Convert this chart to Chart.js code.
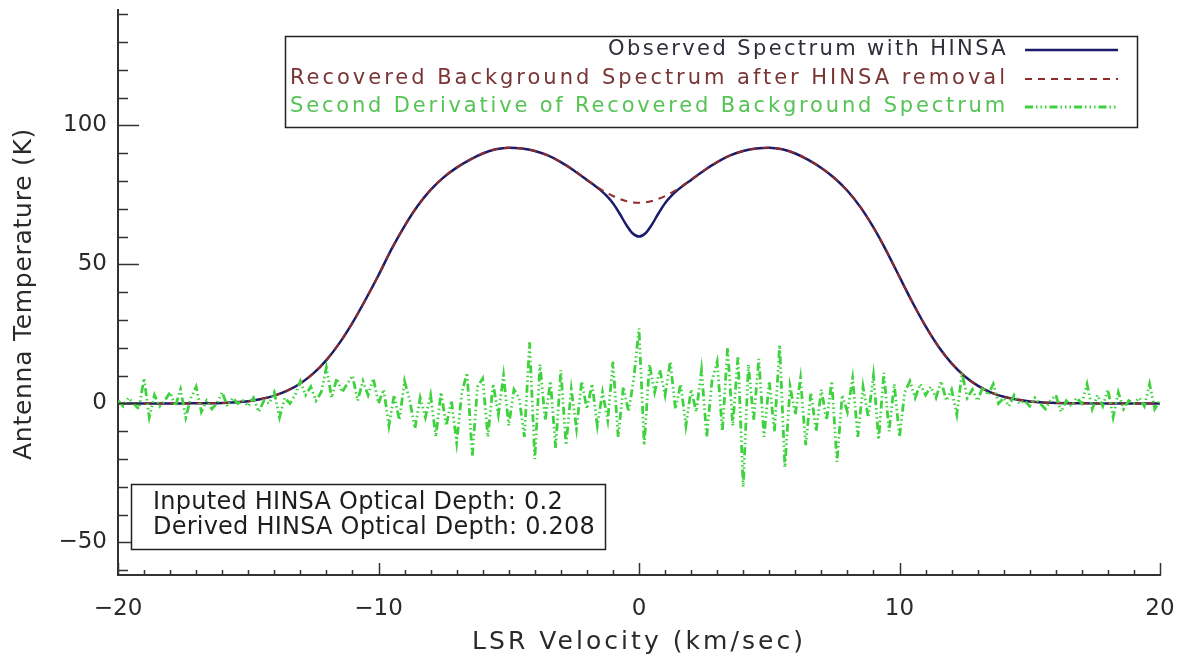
<!DOCTYPE html>
<html>
<head>
<meta charset="utf-8">
<title>HINSA spectrum</title>
<script src="https://cdn.jsdelivr.net/npm/chart.js@4.4.1/dist/chart.umd.min.js"></script>
<style>
  html, body { margin: 0; padding: 0; background: #ffffff; }
  #wrap { width: 1185px; height: 661px; }
</style>
</head>
<body>
<div id="wrap"><canvas id="spec" width="1185" height="661"></canvas></div>
<script>
// ---- data ----
const velocity = [
  -20, -19.5, -19, -18.5, -18, -17.5, -17, -16.5, -16, -15.5,
  -15, -14.5, -14, -13.5, -13, -12.5, -12, -11.5, -11, -10.5,
  -10, -9.5, -9, -8.5, -8, -7.5, -7, -6.5, -6, -5.5,
  -5, -4.5, -4, -3.5, -3, -2.5, -2,
  -1.75, -1.5, -1.25, -1, -0.75, -0.5, -0.25, 0, 0.25, 0.5, 0.75, 1, 1.25, 1.5, 1.75,
  2, 2.5, 3, 3.5, 4, 4.5, 5, 5.5, 6, 6.5,
  7, 7.5, 8, 8.5, 9, 9.5, 10, 10.5, 11, 11.5,
  12, 12.5, 13, 13.5, 14, 14.5, 15, 15.5, 16, 16.5,
  17, 17.5, 18, 18.5, 19, 19.5, 20
];
const observed = [
  0, 0, 0, 0, 0, 0, 0.05, 0.1, 0.2, 0.4,
  0.8, 1.6, 2.8, 4.6, 7.2, 10.8, 15.6, 21.7, 29, 37.3,
  46.1, 55.5, 63.8, 71, 76.8, 81.3, 84.8, 87.6, 89.9, 91.4,
  92, 91.7, 90.8, 89.2, 86.8, 83.8, 80.4,
  78.7, 76.9, 74.7, 72, 68.4, 64.4, 61.2, 60, 61.2, 64.4, 68.4, 72, 74.7, 76.9, 78.7,
  80.4, 83.8, 86.8, 89.2, 90.8, 91.7, 92, 91.4, 89.9, 87.6,
  84.7, 81.1, 76.5, 70.6, 63.3, 54.8, 45.5, 36.3, 27.8, 20.4,
  14.4, 9.8, 6.4, 4, 2.4, 1.4, 0.7, 0.35, 0.2, 0.1,
  0.05, 0, 0, 0, 0, 0, 0
];
const recovered = [
  0, 0, 0, 0, 0, 0, 0.05, 0.1, 0.2, 0.4,
  0.8, 1.6, 2.8, 4.6, 7.2, 10.8, 15.6, 21.7, 29, 37.3,
  46.1, 55.5, 63.8, 71, 76.8, 81.3, 84.8, 87.6, 89.9, 91.4,
  92, 91.7, 90.8, 89.2, 86.8, 83.8, 80.4,
  78.8, 77.2, 75.8, 74.6, 73.6, 72.8, 72.3, 72.2, 72.3, 72.8, 73.6, 74.6, 75.8, 77.2, 78.8,
  80.4, 83.8, 86.8, 89.2, 90.8, 91.7, 92, 91.4, 89.9, 87.6,
  84.7, 81.1, 76.5, 70.6, 63.3, 54.8, 45.5, 36.3, 27.8, 20.4,
  14.4, 9.8, 6.4, 4, 2.4, 1.4, 0.7, 0.35, 0.2, 0.1,
  0.05, 0, 0, 0, 0, 0, 0
];
const derivVelocity = [
  -20, -19.8, -19.6, -19.4, -19.2, -19, -18.8, -18.6, -18.4, -18.2,
  -18, -17.8, -17.6, -17.4, -17.2, -17, -16.8, -16.6, -16.4, -16.2,
  -16, -15.8, -15.6, -15.4, -15.2, -15, -14.8, -14.6, -14.4, -14.2,
  -14, -13.8, -13.6, -13.4, -13.2, -13, -12.8, -12.6, -12.4, -12.2,
  -12, -11.8, -11.6, -11.4, -11.2, -11, -10.8, -10.6, -10.4, -10.2,
  -10, -9.8, -9.6, -9.4, -9.2, -9, -8.8, -8.6, -8.4, -8.2,
  -8, -7.8, -7.6, -7.4, -7.2, -7, -6.8, -6.6, -6.4, -6.2,
  -6, -5.8, -5.6, -5.4, -5.2, -5, -4.8, -4.6, -4.4, -4.2,
  -4, -3.8, -3.6, -3.4, -3.2, -3, -2.8, -2.6, -2.4, -2.2,
  -2, -1.8, -1.6, -1.4, -1.2, -1, -0.8, -0.6, -0.4, -0.2,
  0, 0.2, 0.4, 0.6, 0.8, 1, 1.2, 1.4, 1.6, 1.8,
  2, 2.2, 2.4, 2.6, 2.8, 3, 3.2, 3.4, 3.6, 3.8,
  4, 4.2, 4.4, 4.6, 4.8, 5, 5.2, 5.4, 5.6, 5.8,
  6, 6.2, 6.4, 6.6, 6.8, 7, 7.2, 7.4, 7.6, 7.8,
  8, 8.2, 8.4, 8.6, 8.8, 9, 9.2, 9.4, 9.6, 9.8,
  10, 10.2, 10.4, 10.6, 10.8, 11, 11.2, 11.4, 11.6, 11.8,
  12, 12.2, 12.4, 12.6, 12.8, 13, 13.2, 13.4, 13.6, 13.8,
  14, 14.2, 14.4, 14.6, 14.8, 15, 15.2, 15.4, 15.6, 15.8,
  16, 16.2, 16.4, 16.6, 16.8, 17, 17.2, 17.4, 17.6, 17.8,
  18, 18.2, 18.4, 18.6, 18.8, 19, 19.2, 19.4, 19.6, 19.8, 20
];
const secondDeriv = [
  1, -1, 2, 0, -2, 9, -5, 3, -1, 1,
  4, -1, 5, -5, 2, 6, -3, 1, -2, 0,
  4, -1, 2, 0, 1, -1, 2, -3, 1, 0,
  4, -5, 2, 0, 3, 8, 3, 6, 1, 4,
  13, 2, 9, 4, 7, 10, 1, 8, 3, 9,
  0, 5, -8, 3, -6, 8, 1, -9, 2, -5,
  3, -12, 4, -8, 1, -14, 4, 11, -19, 6,
  9, -12, 7, -4, 10, -8, 5, 2, -12, 22,
  -20, 14, -6, 8, -16, 12, -15, 5, -9, 8,
  -2, 7, -8, 4, -6, 15, -12, 6, -3, 9,
  27, -15, 14, 4, 12, 3, 15, -2, 7, -8,
  5, -3, 12, -12, 8, 15, -10, 20, -8, 17,
  -30, 14, -6, 16, -12, 8, -10, 21, -23, 6,
  -4, 9, -15, 4, -10, 5, -6, 8, -21, 3,
  -3, 9, -12, 6, -5, 10, -13, 11, -10, 7,
  -12, 4, 8, 2, 7, 3, 6, 2, 8, 1,
  5, -4, 11, 2, 5, 1, 6, 3, 7, 0,
  2, -1, 3, 0, 1, -1, 2, 0, -2, 1,
  3, -3, 1, -1, 2, 0, 7, -2, 3, -1,
  5, -5, 4, -2, 1, 0, 2, -1, 7, -2, 1
];
const xTicks = [-20, -10, 0, 10, 20];
const yTicks = [-50, 0, 50, 100];
const seriesLabels = [
  "Observed Spectrum with HINSA",
  "Recovered Background Spectrum after HINSA removal",
  "Second Derivative of Recovered Background Spectrum"
];
const boxLines = [
  "Inputed HINSA Optical Depth: 0.2",
  "Derived HINSA Optical Depth: 0.208"
];

const FONT = '"DejaVu Sans", "Liberation Sans", sans-serif';
const AXIS = "#333333";
const COLORS = ["#1b1b6b", "#8e2b2b", "#3fd23f"];
const TEXT_COLORS = ["#2e2e3a", "#7a3434", "#55c455"];
const DASHES = [[], [7, 6], [8, 3, 1.5, 3, 1.5, 3, 1.5, 3]];

const toPoints = (xs, ys) => xs.map((x, i) => ({ x: x, y: ys[i] }));

// text stretched to a measured width (the plot's vector font is wide)
function fitText(ctx, s, left, cy, size, width, color) {
  ctx.font = size + "px " + FONT;
  ctx.letterSpacing = "0px";
  const m = ctx.measureText(s).width;
  ctx.letterSpacing = ((width - m) / s.length) + "px";
  ctx.fillStyle = color;
  ctx.textAlign = "left";
  ctx.textBaseline = "middle";
  ctx.fillText(s, left, cy);
  ctx.letterSpacing = "0px";
}

function seg(ctx, x1, y1, x2, y2) {
  ctx.beginPath();
  ctx.moveTo(x1, y1);
  ctx.lineTo(x2, y2);
  ctx.stroke();
}

/** --------------- ticks, titles, legend, info box ---------------- */
const decor = {
  id: "decor",
  afterDraw(chart) {
    const { ctx, chartArea: a, scales } = chart;
    const x = scales.x, y = scales.y;
    ctx.save();
    ctx.strokeStyle = AXIS;
    ctx.lineWidth = 1.5;
    // inward tick marks, IDL style
    for (let v = -60; v <= 140; v += 10) {
      const py = Math.round(y.getPixelForValue(v)) + 0.5;
      seg(ctx, a.left, py, a.left + (v % 50 === 0 ? 21 : 10), py);
    }
    for (let v = -20; v <= 20; v += 1) {
      const px = Math.round(x.getPixelForValue(v)) + 0.5;
      seg(ctx, px, a.bottom, px, a.bottom - (v % 10 === 0 ? 12 : 5));
    }

    // axis titles
    fitText(ctx, "LSR Velocity (km/sec)", 472, 642, 25, 334, "#2a2a2a");
    ctx.save();
    ctx.translate(24, 294);
    ctx.rotate(-Math.PI / 2);
    fitText(ctx, "Antenna Temperature (K)", -166, 0, 25, 332, "#2a2a2a");
    ctx.restore();

    // legend box
    ctx.fillStyle = "#ffffff";
    ctx.fillRect(285, 36, 852, 91);
    ctx.strokeStyle = "#222";
    ctx.lineWidth = 1.5;
    ctx.strokeRect(285.5, 36.5, 852, 91);
    const rows = [50, 79, 107];
    const lefts = [608, 290, 290];
    chart.data.datasets.forEach((ds, i) => {
      fitText(ctx, seriesLabels[i], lefts[i], rows[i], 21, 1008 - lefts[i], TEXT_COLORS[i]);
      ctx.strokeStyle = COLORS[i];
      ctx.lineWidth = ds.borderWidth;
      ctx.setLineDash(DASHES[i]);
      seg(ctx, 1025, rows[i], 1118, rows[i]);
      ctx.setLineDash([]);
    });

    // optical depth box
    ctx.fillStyle = "#ffffff";
    ctx.fillRect(131, 484, 474, 65);
    ctx.strokeStyle = "#222";
    ctx.lineWidth = 1.5;
    ctx.strokeRect(131.5, 484.5, 474, 65);
    fitText(ctx, boxLines[0], 153, 503, 24, 410, "#1e1e1e");
    fitText(ctx, boxLines[1], 153, 528, 24, 442, "#1e1e1e");
    ctx.restore();
  }
};

const minus = v => String(v).replace("-", "\u2212");

new Chart(document.getElementById("spec"), {
  type: "line",
  data: {
    datasets: [
      {
        label: seriesLabels[0],
        data: toPoints(velocity, observed),
        borderColor: COLORS[0],
        borderWidth: 2.5,
        borderDash: DASHES[0],
        pointRadius: 0,
        cubicInterpolationMode: "monotone",
        order: 3
      },
      {
        label: seriesLabels[1],
        data: toPoints(velocity, recovered),
        borderColor: COLORS[1],
        borderWidth: 2,
        borderDash: DASHES[1],
        pointRadius: 0,
        cubicInterpolationMode: "monotone",
        order: 2
      },
      {
        label: seriesLabels[2],
        data: toPoints(derivVelocity, secondDeriv),
        borderColor: COLORS[2],
        borderWidth: 2.8,
        borderDash: DASHES[2],
        pointRadius: 0,
        tension: 0,
        order: 1
      }
    ]
  },
  options: {
    responsive: false,
    animation: false,
    events: [],
    layout: { padding: { top: 10, right: 25, left: 0, bottom: 0 } },
    plugins: {
      legend: { display: false },
      title: { display: false },
      tooltip: { enabled: false }
    },
    scales: {
      x: {
        type: "linear",
        min: -20,
        max: 20,
        afterBuildTicks: s => { s.ticks = xTicks.map(v => ({ value: v })); },
        afterFit: s => { s.height = 86; s.paddingLeft = 0; s.paddingRight = 0; },
        grid: { display: false, drawTicks: false },
        border: { display: true, color: AXIS, width: 2 },
        ticks: {
          padding: 20,
          maxRotation: 0,
          color: "#2a2a2a",
          font: { family: FONT, size: 23 },
          callback: v => minus(v)
        }
      },
      y: {
        type: "linear",
        min: -61.7,
        max: 141.5,
        afterBuildTicks: s => { s.ticks = yTicks.map(v => ({ value: v })); },
        afterFit: s => { s.width = 118; s.paddingTop = 0; s.paddingBottom = 0; },
        grid: { display: false, drawTicks: false },
        border: { display: true, color: AXIS, width: 2 },
        ticks: {
          padding: 11,
          color: "#2a2a2a",
          font: { family: FONT, size: 23 },
          callback: v => minus(v)
        }
      }
    }
  },
  plugins: [decor]
});
</script>
</body>
</html>
